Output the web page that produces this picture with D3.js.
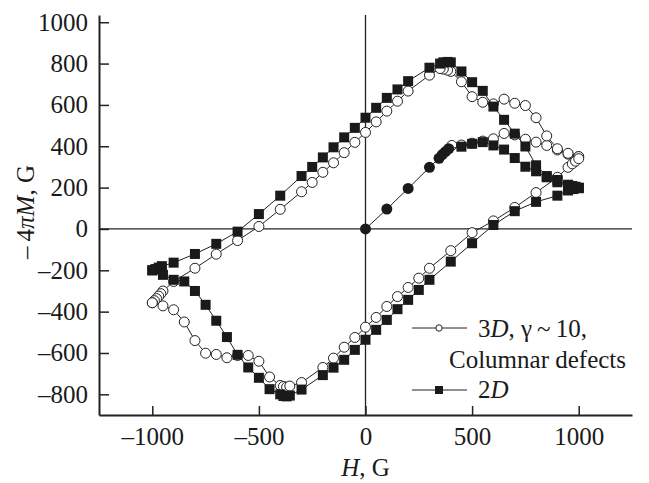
<!DOCTYPE html>
<html>
<head>
<meta charset="utf-8">
<script src="https://cdn.jsdelivr.net/npm/d3@7"></script>
<style>
  html, body { margin: 0; padding: 0; background: #fff; }
  svg text { font-family: "Liberation Serif", "Times New Roman", serif; fill: #1a1a1a; }
</style>
</head>
<body>
<svg id="chart" width="649" height="483"></svg>
<script>
// initial magnetization curve (common to both samples)
var virginH = [0, 100, 200, 300, 345, 360, 375, 390];
var virginM = [0, 96, 196, 298, 342, 360, 374, 388];

// 2D sample (filled squares)
var h2dRise = [450, 500, 550, 600, 650, 700, 750, 800, 850, 900, 950, 1000];
var m2dRise = [398, 412, 420, 404, 384, 343, 301, 279, 250, 226, 208, 197];
var h2dDown = [1000, 985, 970, 950, 900, 850, 800, 750, 700, 650, 600, 550, 500, 450, 400, 385, 365, 350, 300, 200, 150, 100, 50, 0, -50, -100, -150, -200, -250, -300, -400, -500, -600, -700, -800, -900, -955, -970, -985, -1000];
var m2dDown = [200, 204, 208, 214, 237, 256, 308, 399, 461, 528, 592, 668, 710, 762, 806, 808, 806, 800, 780, 715, 675, 634, 586, 538, 489, 443, 395, 346, 300, 256, 161, 72, -13, -72, -121, -163, -180, -187, -194, -200];
var h2dUp = [-1000, -950, -900, -850, -800, -750, -700, -650, -600, -550, -500, -450, -400, -385, -370, -355, -300, -200, -150, -100, -50, 0, 50, 100, 150, 200, 250, 300, 400, 500, 600, 700, 800, 900, 950, 975, 1000];
var m2dUp = [-200, -222, -246, -254, -300, -367, -444, -523, -609, -670, -720, -775, -800, -808, -810, -806, -777, -707, -671, -633, -585, -536, -488, -440, -388, -343, -295, -246, -158, -69, 19, 86, 131, 161, 186, 193, 198];

// 3D sample, columnar defects (open circles)
var h3dRise = [405, 450, 500, 550, 600, 650, 700, 750, 800, 850, 900, 950, 1000];
var m3dRise = [404, 406, 415, 425, 436, 462, 455, 434, 420, 404, 382, 362, 350];
var h3dDown = [1000, 950, 900, 850, 800, 750, 700, 650, 600, 550, 500, 450, 400, 385, 365, 350, 300, 200, 150, 100, 50, 0, -50, -100, -150, -200, -250, -300, -400, -500, -600, -700, -800, -900, -950, -960, -970, -980, -990, -1000];
var m3dDown = [350, 366, 388, 450, 538, 597, 608, 628, 605, 613, 640, 712, 762, 768, 773, 776, 744, 667, 618, 570, 518, 467, 419, 369, 320, 274, 225, 180, 95, 12, -56, -122, -190, -254, -300, -313, -325, -337, -347, -357];
var h3dUp = [-1000, -950, -900, -850, -800, -750, -700, -650, -600, -550, -500, -450, -400, -385, -370, -355, -300, -200, -150, -100, -50, 0, 50, 100, 150, 200, 250, 300, 400, 500, 600, 700, 800, 900, 950, 970, 985, 1000];
var m3dUp = [-357, -372, -391, -450, -540, -601, -607, -623, -612, -612, -640, -716, -757, -762, -765, -760, -743, -670, -625, -572, -525, -475, -428, -375, -327, -283, -238, -190, -105, -18, 39, 104, 176, 250, 298, 315, 328, 340];

// axis ticks
var xMajor = [-1000, -500, 0, 500, 1000];
var xMinor = [-750, -250, 250, 750, 1250];
var yMajor = [-800, -600, -400, -200, 0, 200, 400, 600, 800, 1000];
var yMinor = [-700, -500, -300, -100, 100, 300, 500, 700, 900];

var serif = '"Liberation Serif", "Times New Roman", serif';

function zip(hs, ms) {
  return hs.map(function (h, i) { return { h: h, m: ms[i] }; });
}
function dash(d) {
  return d < 0 ? '\u2013' + Math.abs(d) : String(d);
}

var svg = d3.select('#chart');
var x = d3.scaleLinear().domain([-1250, 1250]).range([99, 632]);
var y = d3.scaleLinear().domain([-900, 1035]).range([415, 15]);

var line = d3.line().x(function (d) { return x(d.h); }).y(function (d) { return y(d.m); });

// zero lines
svg.append('line').attr('x1', x(-1250)).attr('x2', x(1250)).attr('y1', y(0)).attr('y2', y(0))
  .attr('stroke', '#222').attr('stroke-width', 1.3);
svg.append('line').attr('x1', x(0)).attr('x2', x(0)).attr('y1', y(-900)).attr('y2', y(1035))
  .attr('stroke', '#222').attr('stroke-width', 1.3);

// axes
var gx = svg.append('g').attr('transform', 'translate(0,' + y(-900) + ')');
gx.call(d3.axisBottom(x).tickValues(xMinor).tickSizeInner(-5).tickSizeOuter(0).tickFormat(''));
gx.call(d3.axisBottom(x).tickValues(xMajor).tickSizeInner(-9).tickSizeOuter(0).tickPadding(12).tickFormat(dash));
gx.attr('font-family', serif).attr('font-size', 25);
gx.selectAll('path').attr('stroke', '#222').attr('stroke-width', 2);
gx.selectAll('line').attr('stroke', '#222').attr('stroke-width', 1.5);
gx.selectAll('text').attr('fill', '#1a1a1a');

var gy = svg.append('g').attr('transform', 'translate(' + x(-1250) + ',0)');
gy.call(d3.axisLeft(y).tickValues(yMinor).tickSizeInner(-6).tickSizeOuter(0).tickFormat(''));
gy.call(d3.axisLeft(y).tickValues(yMajor).tickSizeInner(-10).tickSizeOuter(0).tickPadding(11).tickFormat(dash));
gy.attr('font-family', serif).attr('font-size', 25);
gy.selectAll('path').attr('stroke', '#222').attr('stroke-width', 2);
gy.selectAll('line').attr('stroke', '#222').attr('stroke-width', 1.5);
gy.selectAll('text').attr('fill', '#1a1a1a');

// axis titles
var xt = svg.append('text').attr('x', x(0)).attr('y', 476).attr('text-anchor', 'middle').attr('font-size', 25);
xt.append('tspan').attr('font-style', 'italic').text('H');
xt.append('tspan').text(', G');

var yt = svg.append('text').attr('transform', 'translate(34,212) rotate(-90)').attr('text-anchor', 'middle').attr('font-size', 25);
yt.append('tspan').text('\u2013\u20094');
yt.append('tspan').attr('font-style', 'italic').text('\u03c0M');
yt.append('tspan').text(', G');

// series
var s3 = zip(h3dRise, m3dRise).concat(zip(h3dDown, m3dDown), zip(h3dUp, m3dUp));
var s2 = zip(h2dRise, m2dRise).concat(zip(h2dDown, m2dDown), zip(h2dUp, m2dUp));
var v = zip(virginH, virginM);

svg.append('path').datum([v[v.length - 1]].concat(s3)).attr('d', line)
  .attr('fill', 'none').attr('stroke', '#222').attr('stroke-width', 1);
svg.append('g').selectAll('circle').data(s3).join('circle')
  .attr('cx', function (d) { return x(d.h); }).attr('cy', function (d) { return y(d.m); })
  .attr('r', 5).attr('fill', '#fff').attr('stroke', '#222').attr('stroke-width', 1);

svg.append('path').datum([v[v.length - 1]].concat(s2)).attr('d', line)
  .attr('fill', 'none').attr('stroke', '#222').attr('stroke-width', 1);
svg.append('g').selectAll('rect').data(s2).join('rect')
  .attr('x', function (d) { return x(d.h) - 5; }).attr('y', function (d) { return y(d.m) - 5; })
  .attr('width', 10).attr('height', 10).attr('fill', '#1a1a1a');

svg.append('path').datum(v).attr('d', line)
  .attr('fill', 'none').attr('stroke', '#222').attr('stroke-width', 1);
svg.append('g').selectAll('circle').data(v).join('circle')
  .attr('cx', function (d) { return x(d.h); }).attr('cy', function (d) { return y(d.m); })
  .attr('r', 5.5).attr('fill', '#1a1a1a');

// legend
var lg = svg.append('g');
lg.append('line').attr('x1', 412).attr('x2', 467).attr('y1', 328).attr('y2', 328).attr('stroke', '#222').attr('stroke-width', 1);
lg.append('circle').attr('cx', 439).attr('cy', 328).attr('r', 3.2).attr('fill', '#fff').attr('stroke', '#222').attr('stroke-width', 1);
var t1 = lg.append('text').attr('x', 478).attr('y', 337).attr('font-size', 25);
t1.append('tspan').text('3');
t1.append('tspan').attr('font-style', 'italic').text('D');
t1.append('tspan').text(', \u03b3\u2009~\u200910,');
lg.append('text').attr('x', 449).attr('y', 368).attr('font-size', 25).text('Columnar defects');
lg.append('line').attr('x1', 412).attr('x2', 467).attr('y1', 390).attr('y2', 390).attr('stroke', '#222').attr('stroke-width', 1);
lg.append('rect').attr('x', 435).attr('y', 386).attr('width', 8).attr('height', 8).attr('fill', '#1a1a1a');
var t2 = lg.append('text').attr('x', 478).attr('y', 398).attr('font-size', 25);
t2.append('tspan').text('2');
t2.append('tspan').attr('font-style', 'italic').text('D');
</script>
</body>
</html>
